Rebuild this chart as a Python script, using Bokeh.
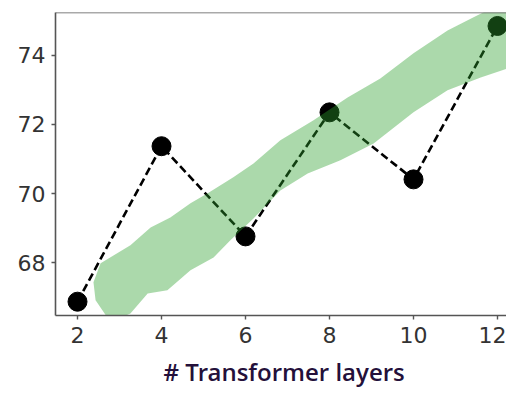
from bokeh.plotting import figure
from bokeh.models import Range1d, Span, Title, FixedTicker
from bokeh.embed import file_html
from bokeh.resources import INLINE

# Data
layers = [2, 4, 6, 8, 10, 12]
scores = [66.87, 71.37, 68.76, 72.35, 70.41, 74.85]

# Green band outline (upper edge left->right, then lower edge right->left)
band_upper_x = [2.38, 2.55, 3.26, 3.74, 4.21, 4.69, 5.10, 5.71, 6.19, 6.83, 7.62, 8.43, 9.21, 10.00, 10.81, 11.43, 11.90, 12.31]
band_upper_y = [67.43, 67.98, 68.50, 69.02, 69.31, 69.72, 70.01, 70.47, 70.87, 71.54, 72.12, 72.78, 73.33, 74.06, 74.72, 75.10, 75.39, 75.45]
band_lower_x = [12.31, 11.60, 10.81, 10.00, 9.05, 8.26, 7.48, 6.83, 6.19, 5.64, 5.24, 4.69, 4.14, 3.67, 3.26, 2.79, 2.43]
band_lower_y = [73.65, 73.36, 72.99, 72.35, 71.45, 70.96, 70.58, 70.09, 69.28, 68.65, 68.15, 67.78, 67.20, 67.11, 66.53, 66.27, 66.91]

x_ticks = [2, 4, 6, 8, 10, 12]
y_ticks = [68, 70, 72, 74]
x_label = "# Transformer layers"

p = figure(width=506, height=395, output_backend="svg", toolbar_location=None,
           x_range=Range1d(1.476, 12.214), y_range=Range1d(66.47, 75.24),
           min_border_left=55, min_border_right=0, min_border_top=12, min_border_bottom=80)
p.outline_line_color = None
p.grid.visible = False
p.background_fill_color = "white"
p.border_fill_color = "white"

p.line(layers, scores, line_color="black", line_width=2.6, line_dash="8 4")
p.scatter(layers, scores, size=19, fill_color="black", line_color="black")

p.patch(band_upper_x + band_lower_x, band_upper_y + band_lower_y,
        fill_color="#2ca02c", fill_alpha=0.4, line_color=None)

top = Span(location=75.24, dimension="width", line_color="#555555", line_width=1.6)
p.add_layout(top)

for ax in (p.xaxis[0], p.yaxis[0]):
    ax.axis_line_color = "#555555"
    ax.axis_line_width = 1.6
    ax.major_tick_line_color = "#555555"
    ax.major_tick_line_width = 1.4
    ax.major_tick_in = 0
    ax.major_tick_out = 4
    ax.minor_tick_line_color = None
    ax.major_label_text_font = "DejaVu Sans"
    ax.major_label_text_font_size = "22px"
    ax.major_label_text_color = "#333333"

p.xaxis[0].ticker = FixedTicker(ticks=x_ticks)
p.yaxis[0].ticker = FixedTicker(ticks=y_ticks)
p.xaxis[0].major_label_standoff = 7
p.yaxis[0].major_label_standoff = 6

t = Title(text=x_label, align="left", offset=108,
          text_font="'Open Sans SemiBold', 'Open Sans'",
          text_font_size="24px", text_font_style="normal", text_color="#24103a",
          standoff=14)
p.add_layout(t, "below")

open("out.html", "w").write(file_html(p, INLINE))
